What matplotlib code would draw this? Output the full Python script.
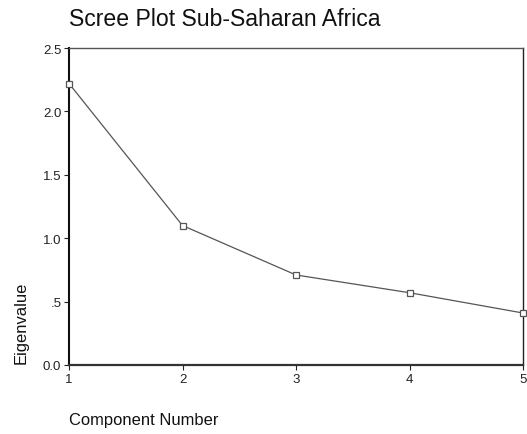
import matplotlib
matplotlib.use("Agg")
import matplotlib.pyplot as plt

components = [1, 2, 3, 4, 5]
eigenvalues = [2.22, 1.10, 0.71, 0.57, 0.41]
y_ticks = [0.0, 0.5, 1.0, 1.5, 2.0, 2.5]
y_tick_labels = ["0.0", ".5", "1.0", "1.5", "2.0", "2.5"]

plt.rcParams["font.family"] = ["Liberation Sans", "DejaVu Sans"]

W, H = 527, 435
fig = plt.figure(figsize=(W / 100, H / 100), dpi=100)
ax = fig.add_axes([69 / W, 1 - 366 / H, (523 - 69) / W, (366 - 49) / H])

ax.plot(components, eigenvalues, color="#555555", linewidth=0.9,
        marker="s", markersize=5, markerfacecolor="white",
        markeredgecolor="#555555", markeredgewidth=0.9, clip_on=False,
        zorder=3)

ax.set_xlim(1, 5)
ax.set_ylim(0, 2.5)
ax.set_xticks(components)
ax.set_xticklabels([str(c) for c in components])
ax.set_yticks(y_ticks)
ax.set_yticklabels(y_tick_labels)
ax.tick_params(direction="out", length=3.5, width=0.8, labelsize=9.5,
               pad=2, colors="#222222")

ax.spines["left"].set_linewidth(1.5)
ax.spines["left"].set_color("#111111")
ax.spines["bottom"].set_linewidth(1.6)
ax.spines["bottom"].set_color("#333333")
ax.spines["top"].set_linewidth(1.0)
ax.spines["top"].set_color("#555555")
ax.spines["right"].set_linewidth(1.0)
ax.spines["right"].set_color("#222222")

fig.text(69 / W, 1 - 20 / H, "Scree Plot Sub-Saharan Africa",
         fontsize=16.6, va="center", ha="left", color="#111111")
fig.text(69 / W, 1 - 421 / H, "Component Number",
         fontsize=11.9, va="center", ha="left", color="#111111")
fig.text(21 / W, 1 - 323 / H, "Eigenvalue", fontsize=11.9,
         rotation=90, va="center", ha="center", color="#111111")

fig.savefig("out.png", dpi=100)
